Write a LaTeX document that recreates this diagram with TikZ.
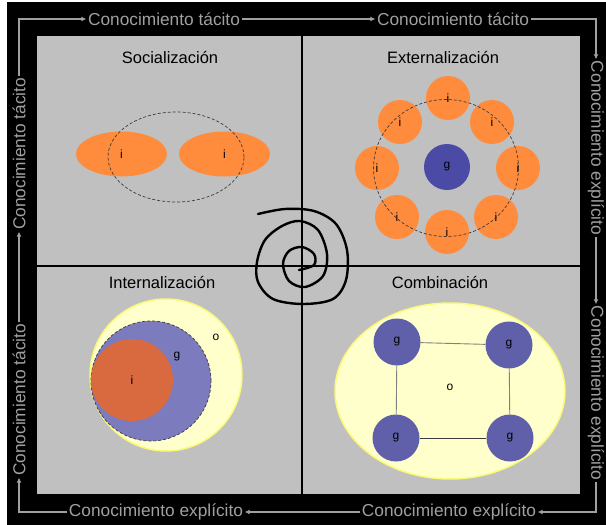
\documentclass[tikz,border=0pt]{standalone}
\usepackage{fontspec}
\setmainfont{Liberation Sans}
\usetikzlibrary{arrows.meta,shapes.geometric}
\definecolor{panel}{RGB}{192,192,192}
\definecolor{framegray}{RGB}{160,160,160}
\definecolor{orng}{RGB}{255,140,60}
\definecolor{dblue}{RGB}{75,75,165}
\definecolor{lyellow}{RGB}{255,255,204}
\definecolor{yborder}{RGB}{250,250,120}
\definecolor{iblue}{RGB}{123,123,190}
\definecolor{iorange}{RGB}{217,105,63}
\definecolor{cblue}{RGB}{95,95,170}
\definecolor{dashc}{RGB}{60,60,60}
\begin{document}
\begin{tikzpicture}[x=1pt,y=-1pt,
  lab/.style={text=framegray,font=\fontsize{17.3}{18}\selectfont,inner sep=1.5pt},
  flow/.style={draw=framegray,line width=1.6pt,-{Latex[length=5pt,width=5pt]}},
  title/.style={font=\fontsize{16.5}{18}\selectfont,text=black},
  small/.style={font=\fontsize{12}{13}\selectfont,inner sep=0pt},
  dcirc/.style={draw=dashc,line width=0.7pt,dash pattern=on 3pt off 2pt},
  divider/.style={draw=black,line width=1.8pt}]
\useasboundingbox (0,0) rectangle (606,525);
\fill[black] (7,2) rectangle (606,525);
\fill[panel] (37,36) rectangle (580,494);
% dividers
\coordinate (vt) at (302,36);
\coordinate (vb) at (302,494);
\coordinate (hl) at (37,266);
\coordinate (hr) at (580,266);
\draw[divider] (vt) -- (vb);
\draw[divider] (hl) -- (hr);
% outer frame
\coordinate (tl) at (19,19);
\coordinate (tr) at (596,19);
\coordinate (br) at (596,512);
\coordinate (bl) at (19,512);
\node[lab] (top1) at (164,19) {Conocimiento tácito};
\node[lab] (top2) at (453,19) {Conocimiento tácito};
\node[lab,rotate=-90] (r1) at (596,148) {Conocimiento explícito};
\node[lab,rotate=-90] (r2) at (596,393) {Conocimiento explícito};
\node[lab] (b2) at (449,512) {Conocimiento explícito};
\node[lab] (b1) at (156,512) {Conocimiento explícito};
\node[lab,rotate=90] (l2) at (19,400) {Conocimiento tácito};
\node[lab,rotate=90] (l1) at (19,154) {Conocimiento tácito};
\draw[flow] (l1.east) -- (tl) -- (top1.west);
\draw[flow] (top1.east) -- (top2.west);
\draw[flow] (top2.east) -- (tr) -- (r1.west);
\draw[flow] (r1.east) -- (r2.west);
\draw[flow] (r2.east) -- (br) -- (b2.east);
\draw[flow] (b2.west) -- (b1.east);
\draw[flow] (b1.west) -- (bl) -- (l2.west);
\draw[flow] (l2.east) -- (l1.west);
% titles
\node[title] (tsoc) at (170,58) {Socialización};
\node[title] (text) at (443,58) {Externalización};
\node[title] (tint) at (162,283) {Internalización};
\node[title] (tcom) at (440,283) {Combinación};
% Socialization
\node[ellipse,fill=orng,minimum width=91pt,minimum height=45pt,small] (s1) at (121.5,154) {i};
\node[ellipse,fill=orng,minimum width=91pt,minimum height=45pt,small] (s2) at (224.5,154) {i};
\node[ellipse,dcirc,minimum width=136pt,minimum height=90pt] (sc) at (176,157) {};
% Externalization
\node[circle,fill=dblue,minimum size=46pt,small] (eg) at (447,167) {g};
\foreach \n/\x/\y in {e1/448/98,e2/492/122,e3/518/168,e4/496/217,e5/447/232,e6/397/217,e7/377/168,e8/400/122}{
  \node[circle,fill=orng,minimum size=44pt,small] (\n) at (\x,\y) {i};
}
\node[ellipse,dcirc,minimum width=145pt,minimum height=137pt] (ec) at (446,168) {};
% Internalization
\node[circle,fill=lyellow,draw=yborder,line width=1.5pt,minimum size=152pt] (io) at (166,375) {};
\node[circle,fill=iblue,dcirc,minimum size=120pt] (ig) at (151,381) {};
\node[circle,fill=iorange,minimum size=82pt,small] (ii) at (132,380) {i};
\node[small] (igl) at (177,357) {g};
\node[small] (iol) at (216,337) {o};
% Combination
\node[ellipse,fill=lyellow,draw=yborder,line width=1.5pt,minimum width=230pt,minimum height=176pt] (co) at (450,391) {};
\node[circle,fill=cblue,minimum size=47pt,small] (c1) at (397,342) {g};
\node[circle,fill=cblue,minimum size=47pt,small] (c2) at (509,345) {g};
\node[circle,fill=cblue,minimum size=47pt,small] (c3) at (396,438) {g};
\node[circle,fill=cblue,minimum size=47pt,small] (c4) at (510,438) {g};
\draw[gray,line width=0.9pt] (c1) -- (c2);
\draw[gray,line width=0.9pt] (c2) -- (c4);
\draw[dashc,line width=0.9pt] (c4) -- (c3);
\draw[gray,line width=0.9pt] (c3) -- (c1);
\node[small] (col) at (450,387) {o};
% spiral
\draw[black,line width=2.4pt,line cap=round,line join=round] plot[smooth,tension=0.55] coordinates {
(258,214) (285,209) (314,211) (336,224) (347,250) (346,280) (333,299) (303,304) (273,299) (258,282) (257,262) (265,240) (282,226) (300,221) (318,230) (327,254) (323,276) (305,287) (289,281) (283,264) (289,251) (302,247) (314,254) (314,265) (299,270)};
\end{tikzpicture}
\end{document}
